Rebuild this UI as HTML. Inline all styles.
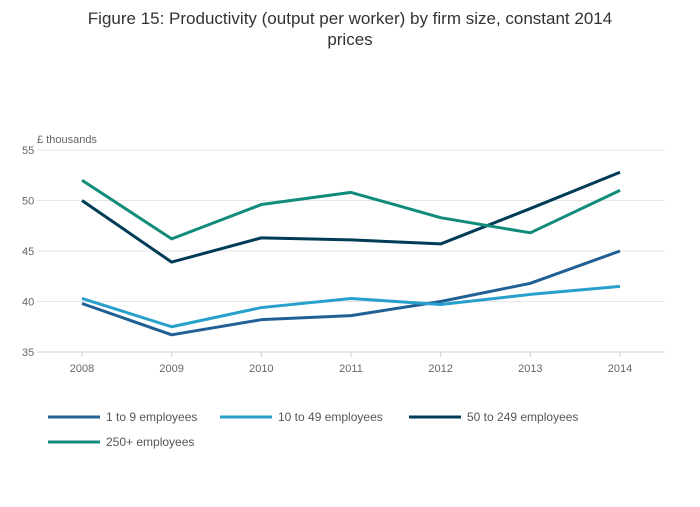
<!DOCTYPE html>
<html><head><meta charset="utf-8"><style>
body{margin:0;background:#fff;font-family:"Liberation Sans",sans-serif;}
</style></head><body>
<svg id="chart" width="700" height="502" xmlns="http://www.w3.org/2000/svg">
<text x="350" y="24" text-anchor="middle" font-size="17" fill="#333">Figure 15: Productivity (output per worker) by firm size, constant 2014</text>
<text x="350" y="45" text-anchor="middle" font-size="17" fill="#333">prices</text>
<text x="37" y="143" font-size="11" fill="#666">£ thousands</text>
<g id="grid"></g><g id="lines"></g><g id="legend"></g>
</svg>
<script>
const years=[2008,2009,2010,2011,2012,2013,2014];
const yTicks=[35,40,45,50,55];
const s1=[39.8,36.7,38.2,38.6,40.0,41.8,45.0];
const s2=[40.3,37.5,39.4,40.3,39.7,40.7,41.5];
const s3=[50.0,43.9,46.3,46.1,45.7,49.2,52.8];
const s4=[52.0,46.2,49.6,50.8,48.3,46.8,51.0];
const names=["1 to 9 employees","10 to 49 employees","50 to 249 employees","250+ employees"];
const colors=["#206095","#27a0cc","#003c57","#118c7b"];
const NS="http://www.w3.org/2000/svg";
const x=i=>82+i*(620-82)/(years.length-1);
const y=v=>352-(v-35)*(352-150)/20;
function mk(t,a,p){const e=document.createElementNS(NS,t);for(const k in a)e.setAttribute(k,a[k]);p.appendChild(e);return e;}
const g=document.getElementById('grid');
yTicks.forEach(v=>{
 const l=mk('line',{x1:37,x2:665,y1:y(v),y2:y(v),stroke:v===35?'#ccd':'#e6e6e6','stroke-width':1},g);
 
 
 const t=mk('text',{x:22,y:y(v)+4,'font-size':11,fill:'#666'},g);t.textContent=v;
 
 
});
years.forEach((yr,i)=>{
 const tk=mk('line',{x1:x(i),x2:x(i),y1:352,y2:357,stroke:'#ccd'},g);
 
 
 const t=mk('text',{x:x(i),y:372,'font-size':11,fill:'#666','text-anchor':'middle'},g);t.textContent=yr;
 
 
});
const L=document.getElementById('lines');
[s1,s2,s3,s4].forEach((s,k)=>{
 const p=mk('polyline',{points:s.map((v,i)=>x(i)+','+y(v)).join(' '),fill:'none',stroke:colors[k],'stroke-width':3,'stroke-linejoin':'round'},L);
 
 
});
const lg=document.getElementById('legend');
const pos=[[48,417],[220,417],[409,417],[48,442]];
names.forEach((n,k)=>{
 const gg=mk('g',{},lg);
 
 
 mk('line',{x1:pos[k][0],x2:pos[k][0]+52,y1:pos[k][1],y2:pos[k][1],stroke:colors[k],'stroke-width':3},gg);
 const t=mk('text',{x:pos[k][0]+58,y:pos[k][1]+4,'font-size':12,fill:'#555'},gg);t.textContent=n;
});
</script>
</body></html>
